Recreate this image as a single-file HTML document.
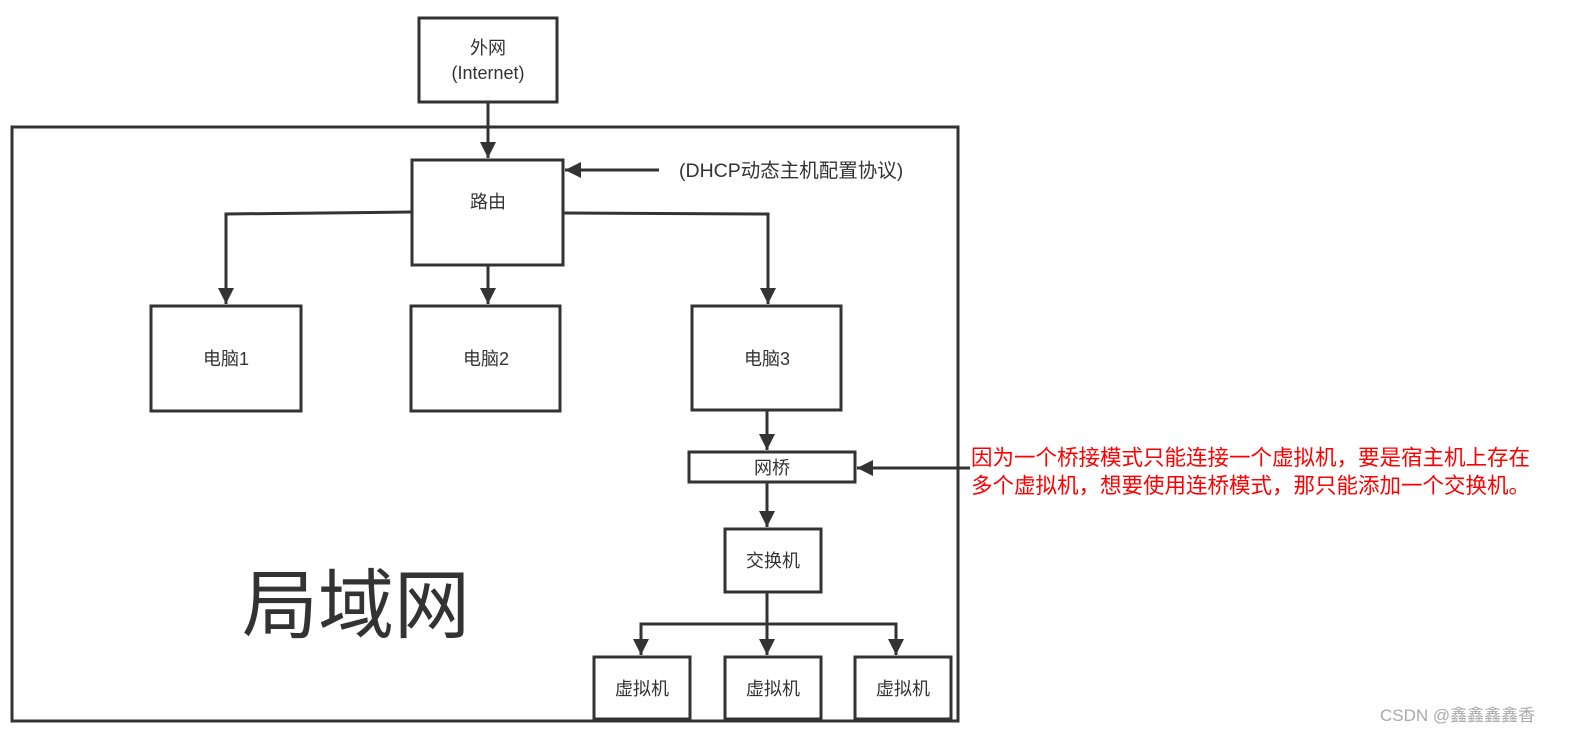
<!DOCTYPE html>
<html><head><meta charset="utf-8"><style>
html,body{margin:0;padding:0;background:#fff;}
svg{display:block;}
text{font-family:"Liberation Sans","Noto Sans CJK SC",sans-serif;fill:#333;}
</style></head><body>
<svg width="1579" height="738" viewBox="0 0 1579 738" xmlns="http://www.w3.org/2000/svg">
<defs>
<marker id="b" viewBox="0 0 12 12" markerWidth="16" markerHeight="16" refX="12" refY="6" orient="auto" markerUnits="userSpaceOnUse" preserveAspectRatio="none">
<path d="M0,0 L12,6 L0,12 Z" fill="#333"/>
</marker>
</defs>
<g fill="none" stroke="#333" stroke-width="3">
<rect x="12" y="127" width="946" height="594"/>
<rect x="419" y="18" width="138" height="84"/>
<rect x="412" y="160" width="151" height="105"/>
<rect x="151" y="306" width="150" height="105"/>
<rect x="411" y="306" width="149" height="105"/>
<rect x="692" y="306" width="149" height="104"/>
<rect x="689" y="452" width="166" height="30"/>
<rect x="725" y="529" width="96" height="63"/>
<rect x="594" y="657" width="96" height="62"/>
<rect x="725" y="657" width="96" height="62"/>
<rect x="855" y="657" width="96" height="62"/>
</g>
<g fill="none" stroke="#333" stroke-width="3" marker-end="url(#b)">
<path d="M488,102 L488,158"/>
<path d="M659,170 L565,170"/>
<path d="M411,212 L226,214 L226,304"/>
<path d="M488,265 L488,304"/>
<path d="M563,213 L768,214 L768,304"/>
<path d="M767,410 L767,450"/>
<path d="M767,482 L767,527"/>
<path d="M767,592 L767,655"/>
<path d="M767,624 L641,624 L641,655"/>
<path d="M767,624 L896,624 L896,655"/>
<path d="M970,468 L857,468"/>
</g>
<g font-size="18" text-anchor="middle">
<text x="488" y="54">外网</text>
<text x="488" y="79">(Internet)</text>
<text x="488" y="208">路由</text>
<text x="226" y="365">电脑1</text>
<text x="486" y="365">电脑2</text>
<text x="767" y="365">电脑3</text>
<text x="772" y="474">网桥</text>
<text x="773" y="567">交换机</text>
<text x="642" y="695">虚拟机</text>
<text x="773" y="695">虚拟机</text>
<text x="903" y="695">虚拟机</text>
</g>
<text x="679" y="177" font-size="19.5">(DHCP动态主机配置协议)</text>
<text x="242" y="632" font-size="76">局域网</text>
<g font-size="21.5">
<text x="971" y="465" style="fill:#ff0000">因为一个桥接模式只能连接一个虚拟机，要是宿主机上存在</text>
<text x="971" y="493" style="fill:#ff0000">多个虚拟机，想要使用连桥模式，那只能添加一个交换机。</text>
</g>
<text x="1380" y="721" font-size="17" style="fill:#aaa">CSDN @鑫鑫鑫鑫香</text>
</svg>
</body></html>
